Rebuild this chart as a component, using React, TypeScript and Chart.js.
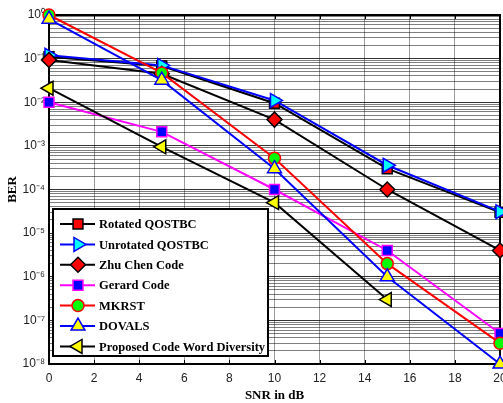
import React, { useEffect, useRef } from 'react';
import { Chart, registerables } from 'chart.js';
import { drawPoint } from 'chart.js/helpers';

Chart.register(...registerables);

// ---- data ----
const snr = [0, 5, 10, 15, 20];
const rotatedQostbc = [0.11, 0.068, 0.0095, 3e-4, 3e-5];
const unrotatedQostbc = [0.12, 0.07, 0.011, 3.6e-4, 3.1e-5];
const zhuChenCode = [0.093, 0.045, 4e-3, 1e-4, 4e-6];
const gerardCode = [0.01, 2.1e-3, 1e-4, 4e-6, 5e-8];
const mkrst = [1.0, 0.047, 5.2e-4, 2e-6, 3e-8];
const dovals = [0.8, 0.032, 3e-4, 1e-6, 1e-8];
const proposedCwd = [0.021, 9.5e-4, 5e-5, 3e-7];
const seriesNames = [
  'Rotated QOSTBC',
  'Unrotated QOSTBC',
  'Zhu Chen Code',
  'Gerard Code',
  'MKRST',
  'DOVALS',
  'Proposed Code Word Diversity',
];
const seriesValues = [rotatedQostbc, unrotatedQostbc, zhuChenCode, gerardCode, mkrst, dovals, proposedCwd];
const xTickValues = [0, 2, 4, 6, 8, 10, 12, 14, 16, 18, 20];
const yExponents = [-8, -7, -6, -5, -4, -3, -2, -1, 0];
const yMinorMultipliers = [2, 3, 4, 5, 6, 7, 8, 9];
const supDigits: Record<string, string> = {
  '-': '\u207B', '0': '\u2070', '1': '\u00B9', '2': '\u00B2', '3': '\u00B3',
  '4': '\u2074', '5': '\u2075', '6': '\u2076', '7': '\u2077', '8': '\u2078', '9': '\u2079',
};

// ---- styles ----
const styles = [
  { line: '#000000', fill: '#ff0000', edge: '#000000', shape: 'rect', rot: 0, r: 7 },
  { line: '#0000ff', fill: '#00ffff', edge: '#0000ff', shape: 'triangle', rot: 90, r: 8 },
  { line: '#000000', fill: '#ff0000', edge: '#000000', shape: 'rectRot', rot: 0, r: 7.5 },
  { line: '#ff00ff', fill: '#0000ff', edge: '#ff00ff', shape: 'rect', rot: 0, r: 7 },
  { line: '#ff0000', fill: '#00ff00', edge: '#ff0000', shape: 'circle', rot: 0, r: 6 },
  { line: '#0000ff', fill: '#ffff00', edge: '#0000ff', shape: 'triangle', rot: 0, r: 8 },
  { line: '#000000', fill: '#ffff00', edge: '#000000', shape: 'triangle', rot: -90, r: 8 },
];

const serif = '"Liberation Serif", "Times New Roman", serif';
const sans = '"Liberation Sans", Arial, sans-serif';

const toSup = (n: number) => String(n).split('').map((c) => supDigits[c] || c).join('');

const isMajor = (v: number) => {
  const l = Math.log10(v);
  return Math.abs(l - Math.round(l)) < 1e-6;
};

const frameAndLegend = {
  id: 'frameAndLegend',
  beforeDatasetsDraw(chart: any) {
    const ctx = chart.ctx;
    const { left, right, top, bottom } = chart.chartArea;
    const xs = chart.scales.x;
    ctx.save();
    ctx.strokeStyle = '#000';
    ctx.lineWidth = 1;
    ctx.beginPath();
    xTickValues.forEach((v) => {
      const px = Math.round(xs.getPixelForValue(v)) + 0.5;
      ctx.moveTo(px, bottom);
      ctx.lineTo(px, bottom - 4);
      ctx.moveTo(px, top);
      ctx.lineTo(px, top + 4);
    });
    ctx.stroke();
    ctx.lineWidth = 2;
    ctx.beginPath();
    ctx.moveTo(left, top);
    ctx.lineTo(right, top);
    ctx.lineTo(right, bottom);
    ctx.stroke();
    ctx.restore();
  },
  afterDatasetsDraw(chart: any) {
    const ctx = chart.ctx;
    const { left, top } = chart.chartArea;
    const bx = left + 4;
    const by = top + 194;
    const bw = 215;
    const bh = 147;
    ctx.save();
    ctx.fillStyle = '#ffffff';
    ctx.fillRect(bx, by, bw, bh);
    ctx.strokeStyle = '#000';
    ctx.lineWidth = 2;
    ctx.strokeRect(bx, by, bw, bh);
    ctx.font = `bold 12.5px ${serif}`;
    ctx.textBaseline = 'middle';
    ctx.textAlign = 'left';
    seriesNames.forEach((name, i) => {
      const s = styles[i];
      const y = by + 15 + i * 20.4;
      ctx.strokeStyle = s.line;
      ctx.lineWidth = 2;
      ctx.beginPath();
      ctx.moveTo(bx + 7, y);
      ctx.lineTo(bx + 42, y);
      ctx.stroke();
      ctx.fillStyle = s.fill;
      ctx.strokeStyle = s.edge;
      ctx.lineWidth = 1.5;
      drawPoint(ctx, { pointStyle: s.shape, rotation: s.rot, radius: s.r, borderWidth: 1.5 } as any, bx + 25, y);
      ctx.fillStyle = '#000';
      ctx.fillText(name, bx + 46, y + 1);
    });
    ctx.restore();
  },
};

export default function App() {
  const ref = useRef<HTMLCanvasElement>(null);
  useEffect(() => {
    const datasets = seriesNames.map((name, i) => {
      const s = styles[i];
      return {
        label: name,
        data: seriesValues[i].map((v, j) => ({ x: snr[j], y: v })),
        borderColor: s.line,
        borderWidth: 2,
        backgroundColor: s.fill,
        pointBackgroundColor: s.fill,
        pointBorderColor: s.edge,
        pointBorderWidth: 1.5,
        pointStyle: s.shape,
        pointRotation: s.rot,
        pointRadius: s.r,
        tension: 0,
        clip: false as any,
        order: seriesNames.length - i,
      };
    });
    const yTickValues: number[] = [];
    yExponents.forEach((e) => {
      yTickValues.push(Math.pow(10, e));
      if (e < 0) yMinorMultipliers.forEach((m) => yTickValues.push(m * Math.pow(10, e)));
    });
    yTickValues.sort((a, b) => a - b);

    const chart = new Chart(ref.current as HTMLCanvasElement, {
      type: 'line',
      data: { datasets },
      options: {
        animation: false,
        responsive: true,
        maintainAspectRatio: false,
        layout: { autoPadding: false, padding: { top: 15, right: 3, left: 0, bottom: 0 } },
        plugins: { legend: { display: false }, tooltip: { enabled: false } },
        scales: {
          x: {
            type: 'linear',
            min: 0,
            max: 20,
            afterBuildTicks: (scale: any) => {
              scale.ticks = xTickValues.map((v) => ({ value: v }));
            },
            afterFit: (scale: any) => {
              scale.height = 39;
              scale.paddingLeft = 0;
              scale.paddingRight = 0;
            },
            ticks: {
              autoSkip: false,
              maxRotation: 0,
              padding: 7,
              color: '#222',
              font: { family: sans, size: 12 },
              callback: (v: any) => String(v),
            },
            grid: { color: '#9a9a9a', lineWidth: 1, drawTicks: false },
            border: { color: '#000', width: 2 },
            title: {
              display: true,
              text: 'SNR in dB',
              color: '#000',
              font: { family: serif, size: 13, weight: 'bold' },
              padding: { top: 0, bottom: 0 },
            },
          },
          y: {
            type: 'logarithmic',
            min: 1e-8,
            max: 1,
            afterBuildTicks: (scale: any) => {
              scale.ticks = yTickValues.map((v) => ({ value: v, major: isMajor(v) }));
            },
            afterFit: (scale: any) => {
              scale.width = 49;
              scale.paddingTop = 0;
              scale.paddingBottom = 0;
            },
            ticks: {
              autoSkip: false,
              padding: 4,
              color: '#222',
              font: { family: sans, size: 12 },
              callback: (v: any) => (isMajor(Number(v)) ? '10' + toSup(Math.round(Math.log10(Number(v)))) : ''),
            },
            grid: {
              drawTicks: false,
              lineWidth: 1,
              color: (c: any) => (c.tick && isMajor(c.tick.value) ? 'rgba(0,0,0,0.8)' : 'rgba(0,0,0,0.5)'),
            },
            border: { color: '#000', width: 2 },
            title: {
              display: true,
              text: 'BER',
              color: '#000',
              font: { family: serif, size: 13, weight: 'bold' },
              padding: { top: 5, bottom: 0 },
            },
          },
        },
      } as any,
      plugins: [frameAndLegend],
    });
    return () => chart.destroy();
  }, []);
  return (
    <div style={{ position: 'fixed', left: 0, top: 0, width: 503, height: 403, background: '#fff' }}>
      <canvas ref={ref} />
    </div>
  );
}
